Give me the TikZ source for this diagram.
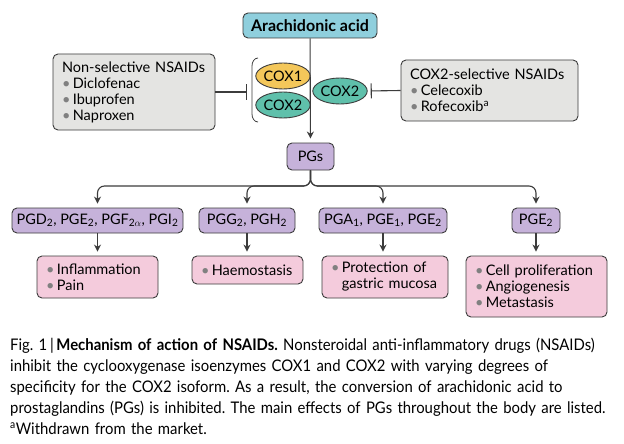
\documentclass[tikz,border=0pt]{standalone}
\usepackage[svgnames]{xcolor}
\usepackage{fontspec}
\setmainfont{Lato}
\newfontfamily\CaptionFont[FakeStretch=0.93]{Lato}
\usetikzlibrary{arrows.meta}
\usetikzlibrary{shapes.geometric}

\definecolor{AcidBlue}{HTML}{8FCFDD}
\definecolor{DrugGrey}{HTML}{E4E4E2}
\definecolor{CoxYellow}{HTML}{F4C75A}
\definecolor{CoxGreen}{HTML}{5FC0AB}
\definecolor{PgPurple}{HTML}{C6B2DA}
\definecolor{EffectPink}{HTML}{F4CBDC}
\definecolor{Ink}{HTML}{3C3C3C}

\begin{document}
\begin{tikzpicture}[x=1pt,y=-1pt]
        \tikzset{
            box/.style={draw=Ink, line width=0.9pt, rounded corners=5pt, inner sep=0pt,
                font=\fontsize{14.5}{16}\selectfont},
            listbox/.style={box, align=left, inner xsep=9pt},
            cox/.style={ellipse, draw=Ink, line width=0.9pt, inner sep=0pt,
                minimum width=49pt, minimum height=26pt, font=\fontsize{14.5}{16}\selectfont},
            arr/.style={draw=Ink, line width=1.1pt, -{Stealth[length=7pt,width=7pt]}, shorten >=4pt},
            inhibit/.style={draw=Ink, line width=1.1pt},
        }
        \newcommand{\Dot}{{\color{Gray}\textbullet}\,}

        \useasboundingbox (0,0) rectangle (624,444);
        \fill[white] (0,0) rectangle (624,444);

        % substrate and enzymes
        \node[box, fill=AcidBlue, minimum width=134pt, minimum height=25pt, font=\fontsize{16}{18}\bfseries]
            (acid) at (310,25.5) {Arachidonic acid};
        \node[cox, fill=CoxYellow] (cox1) at (283,76) {COX1};
        \node[cox, fill=CoxGreen] (cox2) at (283,105) {COX2};
        \node[cox, fill=CoxGreen] (cox2r) at (340,91) {COX2};
        \draw[Ink, line width=0.8pt] (258,58) to[out=180,in=90] (252,66) -- (252,114) to[out=-90,in=180] (258,122);

        % inhibitors
        \node[listbox, fill=DrugGrey, minimum width=162pt, minimum height=76pt, text width=144pt]
            (nonsel) at (134,92) {Non-selective NSAIDs\\ \Dot Diclofenac\\ \Dot Ibuprofen\\ \Dot Naproxen};
        \node[listbox, fill=DrugGrey, minimum width=177pt, minimum height=61pt, text width=159pt]
            (coxsel) at (489.5,90.5) {COX2-selective NSAIDs\\ \Dot Celecoxib\\ \Dot Rofecoxib\textsuperscript{a}};
        \coordinate (barL) at (247,92);
        \draw[inhibit, -{Bar[width=15pt]}] (nonsel.east) -- (barL);
        \draw[inhibit, {Bar[width=15pt]}-, shorten <=3pt] (cox2r.east) -- (coxsel.west);

        % prostaglandins
        \node[box, fill=PgPurple, minimum width=47pt, minimum height=27pt] (pgs) at (310.5,156.5) {PGs};
        \draw[arr] (acid) -- (pgs);

        \node[box, fill=PgPurple, minimum width=171pt, minimum height=25pt] (pgA) at (97.5,220.5)
            {PGD\textsubscript{2}, PGE\textsubscript{2}, PGF\textsubscript{2$\alpha$}, PGI\textsubscript{2}};
        \node[box, fill=PgPurple, minimum width=96pt, minimum height=25pt] (pgB) at (247,220.5)
            {PGG\textsubscript{2}, PGH\textsubscript{2}};
        \node[box, fill=PgPurple, minimum width=128pt, minimum height=25pt] (pgC) at (383,220.5)
            {PGA\textsubscript{1}, PGE\textsubscript{1}, PGE\textsubscript{2}};
        \node[box, fill=PgPurple, minimum width=48pt, minimum height=25pt] (pgD) at (536,220.5)
            {PGE\textsubscript{2}};

        \coordinate (bus) at (310,186);
        \foreach \pg in {pgA,pgB,pgC,pgD} {
            \draw[arr, rounded corners=7pt] (pgs.south) |- (\pg.north |- bus) -- (\pg.north);
        }

        % effects
        \node[listbox, fill=EffectPink, minimum width=121pt, minimum height=42pt, text width=103pt]
            (effA) at (97.5,277) {\Dot Inflammation\\ \Dot Pain};
        \node[listbox, fill=EffectPink, minimum width=111pt, minimum height=28pt, text width=93pt]
            (effB) at (247.5,270) {\Dot Haemostasis};
        \node[listbox, fill=EffectPink, minimum width=126pt, minimum height=42pt, text width=108pt]
            (effC) at (385,277) {\Dot Protection of\\ \phantom{\Dot}gastric mucosa};
        \node[listbox, fill=EffectPink, minimum width=141pt, minimum height=61pt, text width=123pt]
            (effD) at (536.5,286.5) {\Dot Cell proliferation\\ \Dot Angiogenesis\\ \Dot Metastasis};

        \draw[arr] (pgA.south) -- (pgA.south |- effA.north);
        \draw[arr] (pgB.south) -- (pgB.south |- effB.north);
        \draw[arr] (pgC.south) -- (pgC.south |- effC.north);
        \draw[arr] (pgD.south) -- (pgD.south |- effD.north);

        % caption
        \node[anchor=north west, inner sep=0pt, align=left, text width=614pt,
            font=\CaptionFont\frenchspacing\fontsize{16}{21}\selectfont] (caption) at (10,338)
            {Fig.~1\,|\,\textbf{Mechanism of action of NSAIDs.} Nonsteroidal anti-inflammatory drugs (NSAIDs)\\
             inhibit the cyclooxygenase isoenzymes COX1 and COX2 with varying degrees of\\
             specificity for the COX2 isoform. As a result, the conversion of arachidonic acid to\\
             prostaglandins (PGs) is inhibited. The main effects of PGs throughout the body are listed.\\
             \textsuperscript{a}Withdrawn from the market.};
    \end{tikzpicture}
\end{document}
